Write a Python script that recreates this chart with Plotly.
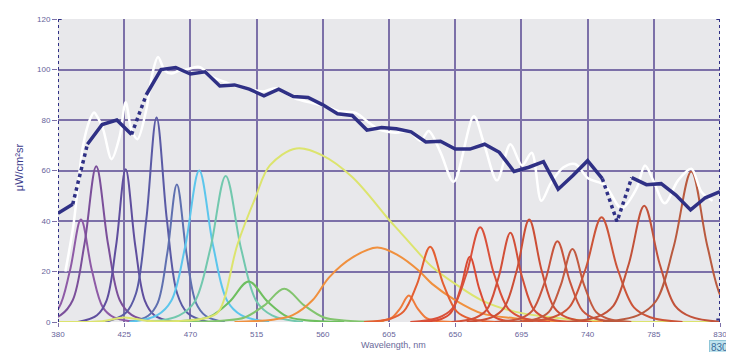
import plotly.graph_objects as go

# ---------------- data ----------------
x_ticks = [380, 425, 470, 515, 560, 605, 650, 695, 740, 785, 830]
y_ticks = [0, 20, 40, 60, 80, 100, 120]

# thick navy line (sampled every 10 nm)
navy_wl = [380, 390, 400, 410, 420, 430, 440, 450, 460, 470,
           480, 490, 500, 510, 520, 530, 540, 550, 560, 570,
           580, 590, 600, 610, 620, 630, 640, 650, 660, 670,
           680, 690, 700, 710, 720, 730, 740, 750, 760, 770,
           780, 790, 800, 810, 820, 830]
navy_val = [43.1, 46.6, 70.4, 78.2, 80, 74.3, 90, 100, 100.8, 98.2,
            99.1, 93.5, 93.9, 92.2, 89.6, 92.2, 89.3, 88.9, 86, 82.5,
            81.8, 76, 77, 76.5, 75.3, 71.3, 71.6, 68.5, 68.5, 70.4,
            67.2, 59.6, 61.3, 63.5, 52.6, 58, 63.9, 56.8, 39.8, 57.2,
            54.4, 54.8, 50.3, 44.4, 49.2, 51.6]
navy_dotted_starts = [1, 5, 37, 38]

# white measured spectrum
white_wl = [385, 390.4, 397, 401.7, 404.5, 407, 410.7, 416.4, 422, 426, 430, 434,
            440, 444, 448, 452.5, 457, 462, 467, 476, 485, 494, 500, 508, 519, 528,
            540.6, 552.8, 562, 571, 582.4, 591.4, 598, 609.5, 618.5, 626.5, 632, 640,
            649, 662.6, 669.4, 678.4, 687.5, 695.4, 702, 708.5, 715, 723.6, 731.5,
            740.5, 751.8, 763, 773.3, 779, 784.6, 792.5, 801.5, 810.5, 817.3, 825]
white_val = [20, 38, 69.8, 80.2, 83, 81, 76.3, 64.5, 73.7, 87, 76, 72.4,
             84, 98, 105, 99.7, 98.4, 99.5, 100, 101, 97, 95, 93.5, 92.6, 91.3, 92.6,
             88.7, 86.7, 85.4, 83.5, 82.8, 78.9, 76.3, 75, 75.6, 71.8, 75.6, 67.2,
             55.5, 81.5, 71, 56.1, 70.4, 62, 67, 48, 55, 61.3, 62.6,
             56.8, 54.2, 45, 52.9, 62, 56.1, 47, 56.1, 60.7, 51.6, 48]

# individual LED spectra
curve_wl = [
    [358.1, 373.1, 380.6, 388.1, 395.6, 403.1, 410.6, 418.1, 433.1],
    [366, 382, 390, 398, 406, 414, 422, 430, 446],
    [393.5, 406.5, 413, 419.5, 426, 432.5, 439, 445.5, 458.5],
    [412, 426, 433, 440, 447, 454, 461, 468, 482],
    [428.3, 441.3, 447.8, 454.3, 460.8, 467.3, 473.8, 480.3, 493.3],
    [428.5, 447.5, 457, 466.5, 476, 485.5, 495, 504.5, 523.5],
    [441.5, 462.5, 473, 483.5, 494, 504.5, 515, 525.5, 546.5],
    [444.6, 470.6, 483.6, 496.6, 509.6, 522.6, 535.6, 548.6, 574.6],
    [466.3, 493.3, 506.8, 520.3, 533.8, 547.3, 560.8, 574.3, 601.3],
    [380, 410, 425, 440, 462, 480, 489, 502, 514, 524, 542, 560, 580, 605, 612,
     625, 634, 650, 668, 691, 713, 740, 830],
    [500, 527, 539.5, 553, 564.3, 580, 597, 611.8, 625.3, 634.3, 650.2, 668.2, 690, 720, 760],
    [588.5, 600.5, 606.5, 612.5, 618.5, 624.5, 630.5, 636.5, 648.5],
    [588, 606, 615, 624, 633, 642, 651, 660, 678],
    [627.5, 640.5, 647, 653.5, 660, 666.5, 673, 679.5, 692.5],
    [619.5, 638.5, 648, 657.5, 667, 676.5, 686, 695.5, 714.5],
    [647.5, 663.5, 671.5, 679.5, 687.5, 695.5, 703.5, 711.5, 727.5],
    [657.8, 674.8, 683.3, 691.8, 700.3, 708.8, 717.3, 725.8, 742.8],
    [677, 694, 702.5, 711, 719.5, 728, 736.5, 745, 762],
    [689.7, 705.7, 713.7, 721.7, 729.7, 737.7, 745.7, 753.7, 769.7],
    [694.5, 716.5, 727.5, 738.5, 749.5, 760.5, 771.5, 782.5, 804.5],
    [726, 747, 757.5, 768, 778.5, 789, 799.5, 810, 831],
    [750.5, 774.5, 786.5, 798.5, 810.5, 821.5, 832, 843],
]
curve_val = [
    [0, 1.8, 5.7, 20.3, 40.6, 20.3, 5.7, 1.8, 0],
    [0, 2.8, 8.6, 30.9, 61.7, 30.9, 8.6, 2.8, 0],
    [0, 2.7, 8.5, 30.3, 60.5, 30.3, 8.5, 2.7, 0],
    [0, 3.6, 11.3, 40.5, 81, 40.5, 11.3, 3.6, 0],
    [0, 2.5, 7.6, 27.3, 54.5, 27.3, 7.6, 2.5, 0],
    [0, 2.7, 8.4, 30, 60, 30, 8.4, 2.7, 0],
    [0, 2.6, 8.1, 28.9, 57.8, 28.9, 8.1, 2.6, 0],
    [0, 0.7, 2.2, 8, 16, 8, 2.2, 0.7, 0],
    [0, 0.6, 1.8, 6.6, 13.2, 6.6, 1.8, 0.6, 0],
    [0, 0.3, 1.8, 0.5, 0.4, 1.5, 4, 30.7, 49, 62, 68.7, 65.9, 57.4, 40.5, 36,
     27.5, 22, 15.1, 8.6, 4, 2, 0.5, 0],
    [0, 1, 2.7, 8.6, 17.7, 25.5, 29.5, 26.2, 20.3, 15.1, 8.6, 3.4, 1.5, 0.3, 0],
    [0, 0.5, 1.5, 5.3, 10.5, 5.3, 1.5, 0.5, 0],
    [0, 1.3, 4.2, 14.9, 29.8, 14.9, 4.2, 1.3, 0],
    [0, 1.2, 3.6, 12.9, 25.8, 12.9, 3.6, 1.2, 0],
    [0, 1.7, 5.3, 18.8, 37.5, 18.8, 5.3, 1.7, 0],
    [0, 1.6, 4.9, 17.7, 35.3, 17.7, 4.9, 1.6, 0],
    [0, 1.8, 5.7, 20.3, 40.6, 20.3, 5.7, 1.8, 0],
    [0, 1.4, 4.5, 16, 32, 16, 4.5, 1.4, 0],
    [0, 1.3, 4, 14.5, 28.9, 14.5, 4, 1.3, 0],
    [0, 1.9, 5.8, 20.8, 41.5, 20.8, 5.8, 1.9, 0],
    [0, 2.1, 6.4, 23, 46, 23, 6.4, 2.1, 0],
    [0, 2.7, 8.3, 29.8, 59.6, 29.8, 8.3, 2.7],
]
curve_colors = [
    "#8E5AA6", "#7B4F9A", "#5F4E9E", "#5A5AA5", "#5F70B0", "#5CC6EC", "#72C8AE",
    "#6EBF5F", "#82C46E", "#DCE46E", "#F0903E", "#EF7B3B", "#E35F32", "#DA4A33",
    "#D9503A", "#D24F38", "#CC4E36", "#C8553D", "#C25A40", "#CC5438", "#C2523A",
    "#B95A3F",
]

# ---------------- figure ----------------
fig = go.Figure()

for wl, val, col in zip(curve_wl, curve_val, curve_colors):
    fig.add_trace(go.Scatter(x=wl, y=val, mode="lines",
                             line=dict(color=col, width=2, shape="spline", smoothing=1.0),
                             hoverinfo="skip", showlegend=False))

fig.add_trace(go.Scatter(x=white_wl, y=white_val, mode="lines",
                         line=dict(color="#FFFFFF", width=2.5, shape="spline", smoothing=0.9),
                         hoverinfo="skip", showlegend=False))

# navy line split into solid and dotted runs
sx, sy, dx, dy = [], [], [], []
for i in range(len(navy_wl) - 1):
    tx, ty = (dx, dy) if i in navy_dotted_starts else (sx, sy)
    if tx and tx[-1] == navy_wl[i]:
        tx.append(navy_wl[i + 1]); ty.append(navy_val[i + 1])
    else:
        if tx:
            tx.append(None); ty.append(None)
        tx += [navy_wl[i], navy_wl[i + 1]]
        ty += [navy_val[i], navy_val[i + 1]]

navy = "#2F3085"
fig.add_trace(go.Scatter(x=sx, y=sy, mode="lines", line=dict(color=navy, width=3.5),
                         hoverinfo="skip", showlegend=False))
fig.add_trace(go.Scatter(x=dx, y=dy, mode="lines", line=dict(color=navy, width=3.5, dash="dot"),
                         hoverinfo="skip", showlegend=False))

grid_col = "#7C70A8"
tick_font = dict(family="Liberation Sans, Arial, sans-serif", size=8, color="#66639A")

fig.update_xaxes(range=[380, 830], tickvals=x_ticks, ticktext=[str(t) for t in x_ticks],
                 showgrid=True, gridcolor=grid_col, gridwidth=1.5, zeroline=False,
                 showline=False, ticks="outside", ticklen=4, tickcolor=grid_col,
                 tickfont=tick_font)
fig.update_yaxes(range=[0, 120], tickvals=y_ticks, ticktext=[str(t) for t in y_ticks],
                 showgrid=True, gridcolor=grid_col, gridwidth=1.5, zeroline=False,
                 showline=False, ticks="outside", ticklen=5, tickcolor=grid_col,
                 tickfont=tick_font)

# dotted frame lines on left and right
for xv in (380, 830):
    fig.add_shape(type="line", xref="x", yref="y", x0=xv, x1=xv, y0=0, y1=120,
                  line=dict(color=navy, width=2, dash="dot"))
fig.add_shape(type="line", xref="x", yref="y", x0=380, x1=382.5, y0=120, y1=120,
              line=dict(color=navy, width=2))
fig.add_shape(type="line", xref="x", yref="y", x0=827.5, x1=830, y0=120, y1=120,
              line=dict(color=navy, width=2))
fig.add_shape(type="line", xref="x", yref="y", x0=827.5, x1=830, y0=1, y1=1,
              line=dict(color=navy, width=2))

# small grey stub bottom-left
fig.add_shape(type="line", xref="paper", yref="paper", x0=-0.0798, x1=-0.0798,
              y0=-0.058, y1=-0.1, line=dict(color="#C8C8C8", width=1))

fig.add_annotation(text="Wavelength, nm", xref="paper", yref="paper",
                   x=(395 - 58) / 664, y=(322 - 345) / 307, showarrow=False,
                   xanchor="center", yanchor="middle",
                   font=dict(family="Liberation Sans, Arial, sans-serif", size=9, color="#6A6A9A"))
fig.add_annotation(text="μW/cm²sr", xref="paper", yref="paper",
                   x=(19 - 58) / 664, y=(322 - 165) / 307, showarrow=False, textangle=-90,
                   xanchor="center", yanchor="middle",
                   font=dict(family="Liberation Sans, Arial, sans-serif", size=11, color="#3C3C8C"))
fig.add_annotation(text="830", xref="paper", yref="paper",
                   x=(721 - 58) / 664, y=(322 - 347.5) / 307, showarrow=False,
                   xanchor="center", yanchor="middle", bgcolor="#BFE3EE",
                   bordercolor="#8FC6D8", borderwidth=1, borderpad=1,
                   font=dict(family="Liberation Sans, Arial, sans-serif", size=10, color="#3A6E9A"))

# page body has an 8px margin, so the figure is sized to fill the rest of the window
fig.update_layout(width=726, height=344,
                  margin=dict(l=50, r=12, t=7, b=30),
                  paper_bgcolor="#FFFFFF", plot_bgcolor="#E8E8EB",
                  showlegend=False)

fig.write_html("out.html")
